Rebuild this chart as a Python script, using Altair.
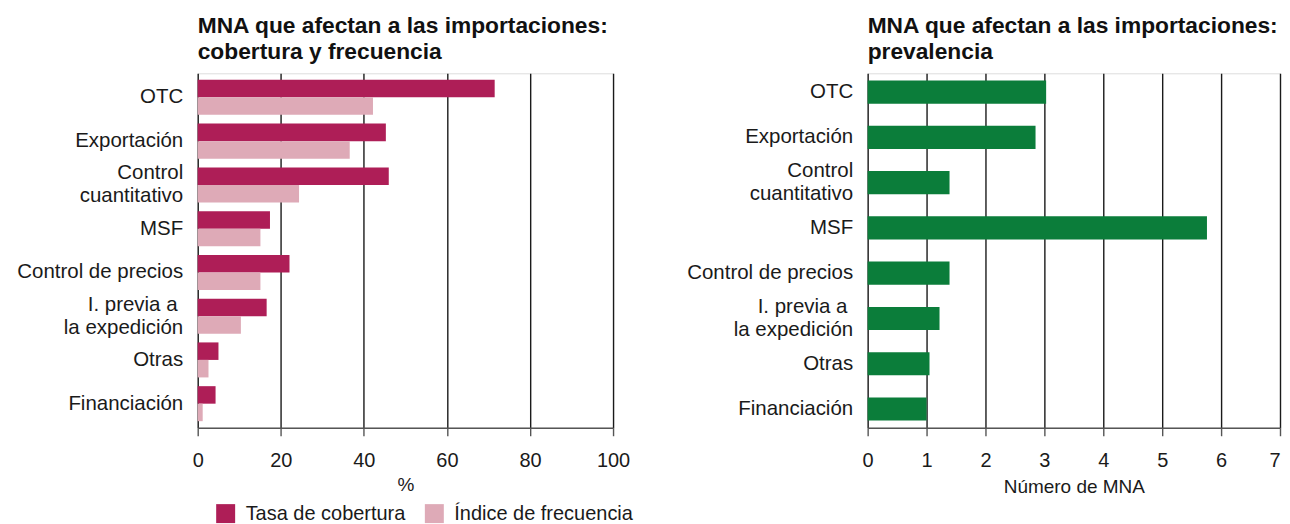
import altair as alt
import pandas as pd

categories = ["OTC", "Exportación", "Control|cuantitativo", "MSF", "Control de precios",
              "I. previa a\u00a0\u200b|la expedición", "Otras", "Financiación"]
cobertura = [71.5, 45.3, 46.0, 17.4, 22.1, 16.6, 5.0, 4.3]
frecuencia = [42.2, 36.6, 24.4, 15.1, 15.1, 10.4, 2.6, 1.2]
prevalencia = [3.03, 2.85, 1.39, 5.76, 1.39, 1.22, 1.05, 1.0]
series = ["Tasa de cobertura", "Índice de frecuencia"]
colors = ["#AE1E57", "#DEAAB7"]
left_ticks = [0, 20, 40, 60, 80, 100]
right_ticks = [0, 1, 2, 3, 4, 5, 6, 7]

FONT = "Liberation Sans"

rows = []
for c, a, b in zip(categories, cobertura, frecuencia):
    rows.append({"cat": c, "serie": series[0], "val": a})
    rows.append({"cat": c, "serie": series[1], "val": b})
df_left = pd.DataFrame(rows)
df_right = pd.DataFrame({"cat": categories, "val": prevalencia})

label_expr = "split(datum.label, '|')"

y_axis_common = dict(title=None, labelExpr=label_expr, domain=False, ticks=False,
                     labelPadding=15, labelFontSize=20.5, labelLineHeight=23,
                     labelOffset={"condition": {"test": "indexof(datum.value, '|') >= 0", "value": -11.5},
                                  "value": 0},
                     labelColor="#1a1a1a", labelFont=FONT, minExtent=189, maxExtent=189,
                     grid=False, labelLimit=400)

def x_axis(values, title, tpad, last=None):
    extra = {}
    if last is not None:
        extra["labelAlign"] = {"condition": {"test": f"datum.value == {last}", "value": "right"},
                               "value": "center"}
    return alt.Axis(values=values, title=title, grid=True, gridColor="#1a1a1a", gridWidth=1.4,
                    domainColor="#555555", domainWidth=1.5, tickColor="#555555", tickWidth=1.4,
                    tickSize=8, labelPadding=15, labelFontSize=20, labelColor="#1a1a1a",
                    labelFlush=False,
                    labelFont=FONT, titleFont=FONT, titleFontSize=19, titleFontWeight="normal",
                    titleColor="#1a1a1a", titlePadding=tpad, **extra)

def title(lines):
    return alt.TitleParams(lines, anchor="start", frame="group", fontSize=22.8, fontWeight="bold",
                           font=FONT, lineHeight=26, offset=10, color="#111111")

left = alt.Chart(df_left).mark_bar().encode(
    y=alt.Y("cat:N", sort=categories,
            scale=alt.Scale(paddingInner=0.2, paddingOuter=0.15),
            axis=alt.Axis(**y_axis_common)),
    yOffset=alt.YOffset("serie:N", sort=series, scale=alt.Scale(paddingInner=0, paddingOuter=0)),
    x=alt.X("val:Q", scale=alt.Scale(domain=[0, 100], nice=False),
            axis=x_axis(left_ticks, "%", 5)),
    color=alt.Color("serie:N", sort=series,
                    scale=alt.Scale(domain=series, range=colors),
                    legend=alt.Legend(title=None, orient="none", legendX=18, legendY=431,
                                      direction="horizontal", symbolType="square",
                                      symbolSize=361, symbolStrokeWidth=0, labelFontSize=20,
                                      labelFont=FONT, labelColor="#1a1a1a", labelOffset=10,
                                      labelLimit=400, columnPadding=18, padding=0)),
).properties(width=416, height=355, title=title(["MNA que afectan a las importaciones:",
                                                  "cobertura y frecuencia"]))

right = alt.Chart(df_right).mark_bar(color="#0B7D3A").encode(
    y=alt.Y("cat:N", sort=categories,
            scale=alt.Scale(paddingInner=0.49, paddingOuter=0.16),
            axis=alt.Axis(**y_axis_common)),
    x=alt.X("val:Q", scale=alt.Scale(domain=[0, 7], nice=False),
            axis=x_axis(right_ticks, "Número de MNA", 7, last=7)),
).properties(width=413, height=355, title=title(["MNA que afectan a las importaciones:",
                                                  "prevalencia"]))

chart = alt.hconcat(left, right, spacing=255, bounds="flush").properties(
    padding={"top": 5, "left": 0, "right": 0, "bottom": 0}
).configure_view(stroke=None).configure(background="white")

chart.save("out.html", embed_options={"renderer": "svg", "actions": False})
